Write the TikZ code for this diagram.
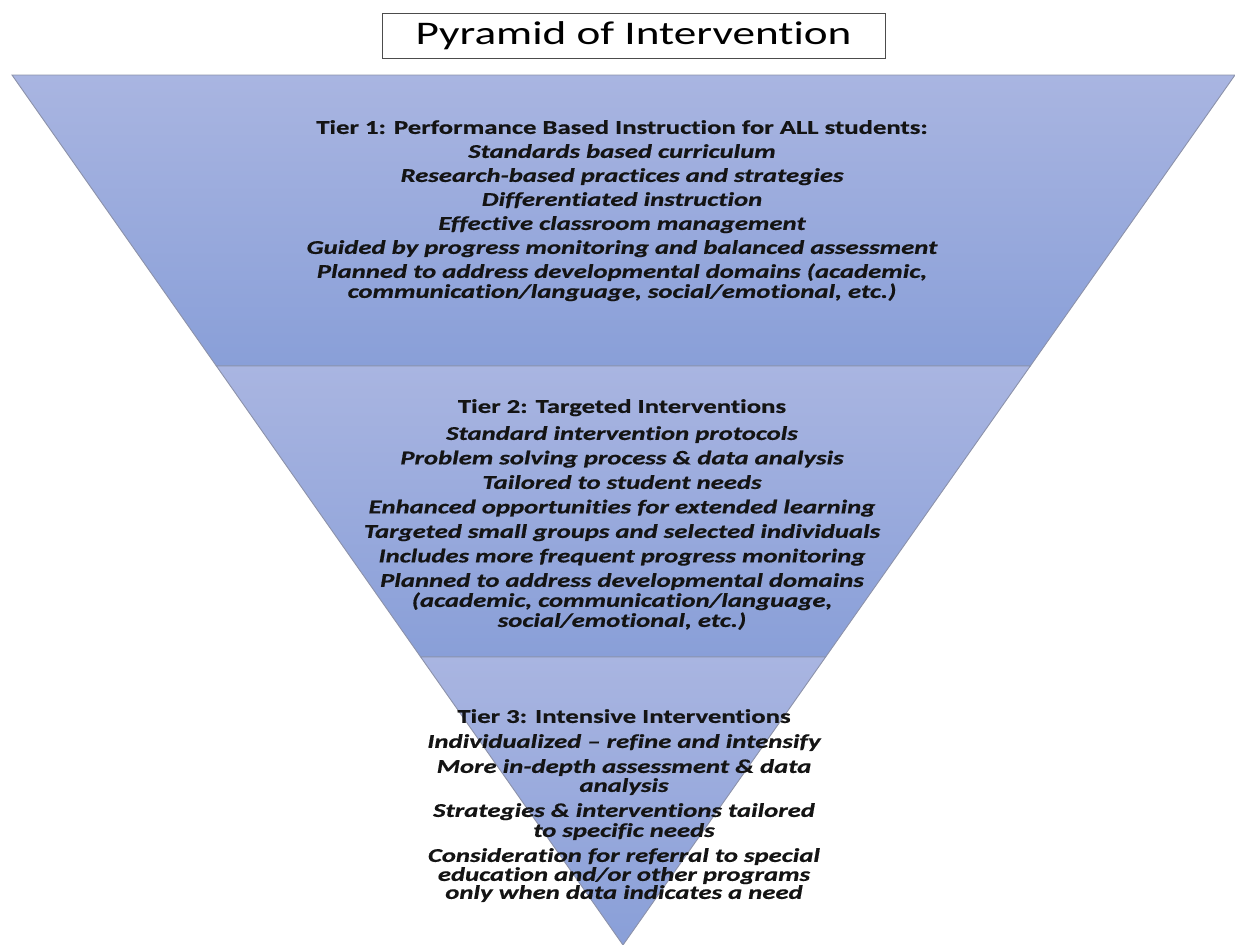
\documentclass[tikz,border=0pt]{standalone}
\usepackage{fontspec}
\setmainfont{Carlito}[FakeStretch=1.37, Ligatures={NoCommon}, BoldItalicFeatures={FakeBold=0.6}, BoldFeatures={FakeBold=0.6}]
\definecolor{tiertop}{RGB}{169,181,225}
\definecolor{tierbot}{RGB}{137,159,216}
\definecolor{edgegray}{RGB}{140,146,170}
\definecolor{txt}{RGB}{20,20,20}
\tikzset{
  tierfill/.style={top color=tiertop, bottom color=tierbot, draw=edgegray, line width=0.9pt, line join=miter},
  tiertext/.style={align=center, text=txt, inner sep=0pt, anchor=north,
    font=\fontsize{19.5}{20}\selectfont\bfseries\itshape},
  titlebox/.style={draw=black!70, line width=0.9pt, fill=white, minimum width=503pt, minimum height=45pt,
    font=\fontsize{33}{36}\selectfont, inner sep=0pt}
}
\begin{document}
\begin{tikzpicture}[x=1pt,y=-1pt]
\useasboundingbox (0,0) rectangle (1235,945);
\coordinate (TL) at (12,75);
\coordinate (TR) at (1235,75);
\coordinate (A) at (623,945);
\coordinate (L1) at (216.4,366);
\coordinate (R1) at (1030.3,366);
\coordinate (L2) at (420.7,657);
\coordinate (R2) at (825.6,657);
\shade[tierfill] (TL) -- (TR) -- (R1) -- (L1) -- cycle;
\shade[tierfill] (L1) -- (R1) -- (R2) -- (L2) -- cycle;
\shade[tierfill] (L2) -- (R2) -- (A) -- cycle;

\node[titlebox] (title) at (633.5,35.5) {Pyramid of Intervention};

\node[tiertext] (t1) at (622,120) {{\upshape Tier 1: Performance Based Instruction for ALL students:}\\[4pt]
Standards based curriculum\\[4pt]
Research-based practices and strategies\\[4pt]
Differentiated instruction\\[4pt]
Effective classroom management\\[4pt]
Guided by progress monitoring and balanced assessment\\[4pt]
Planned to address developmental domains (academic,\\
communication/language, social/emotional, etc.)};

\node[tiertext] (t2) at (622,399) {{\upshape Tier 2: Targeted Interventions}\\[7pt]
Standard intervention protocols\\[4.5pt]
Problem solving process \& data analysis\\[4.5pt]
Tailored to student needs\\[4.5pt]
Enhanced opportunities for extended learning\\[4.5pt]
Targeted small groups and selected individuals\\[4.5pt]
Includes more frequent progress monitoring\\[4.5pt]
Planned to address developmental domains\\
(academic, communication/language,\\
social/emotional, etc.)};

\node[tiertext] (t3) at (624,709) {{\upshape Tier 3: Intensive Interventions}\\[5pt]
Individualized -- refine and intensify\\[5pt]
More in-depth assessment \& data\\[-1pt]
analysis\\[5pt]
Strategies \& interventions tailored\\
to specific needs\\[5pt]
Consideration for referral to special\\[-1pt]
education and/or other programs\\[-2pt]
only when data indicates a need};
\end{tikzpicture}
\end{document}
